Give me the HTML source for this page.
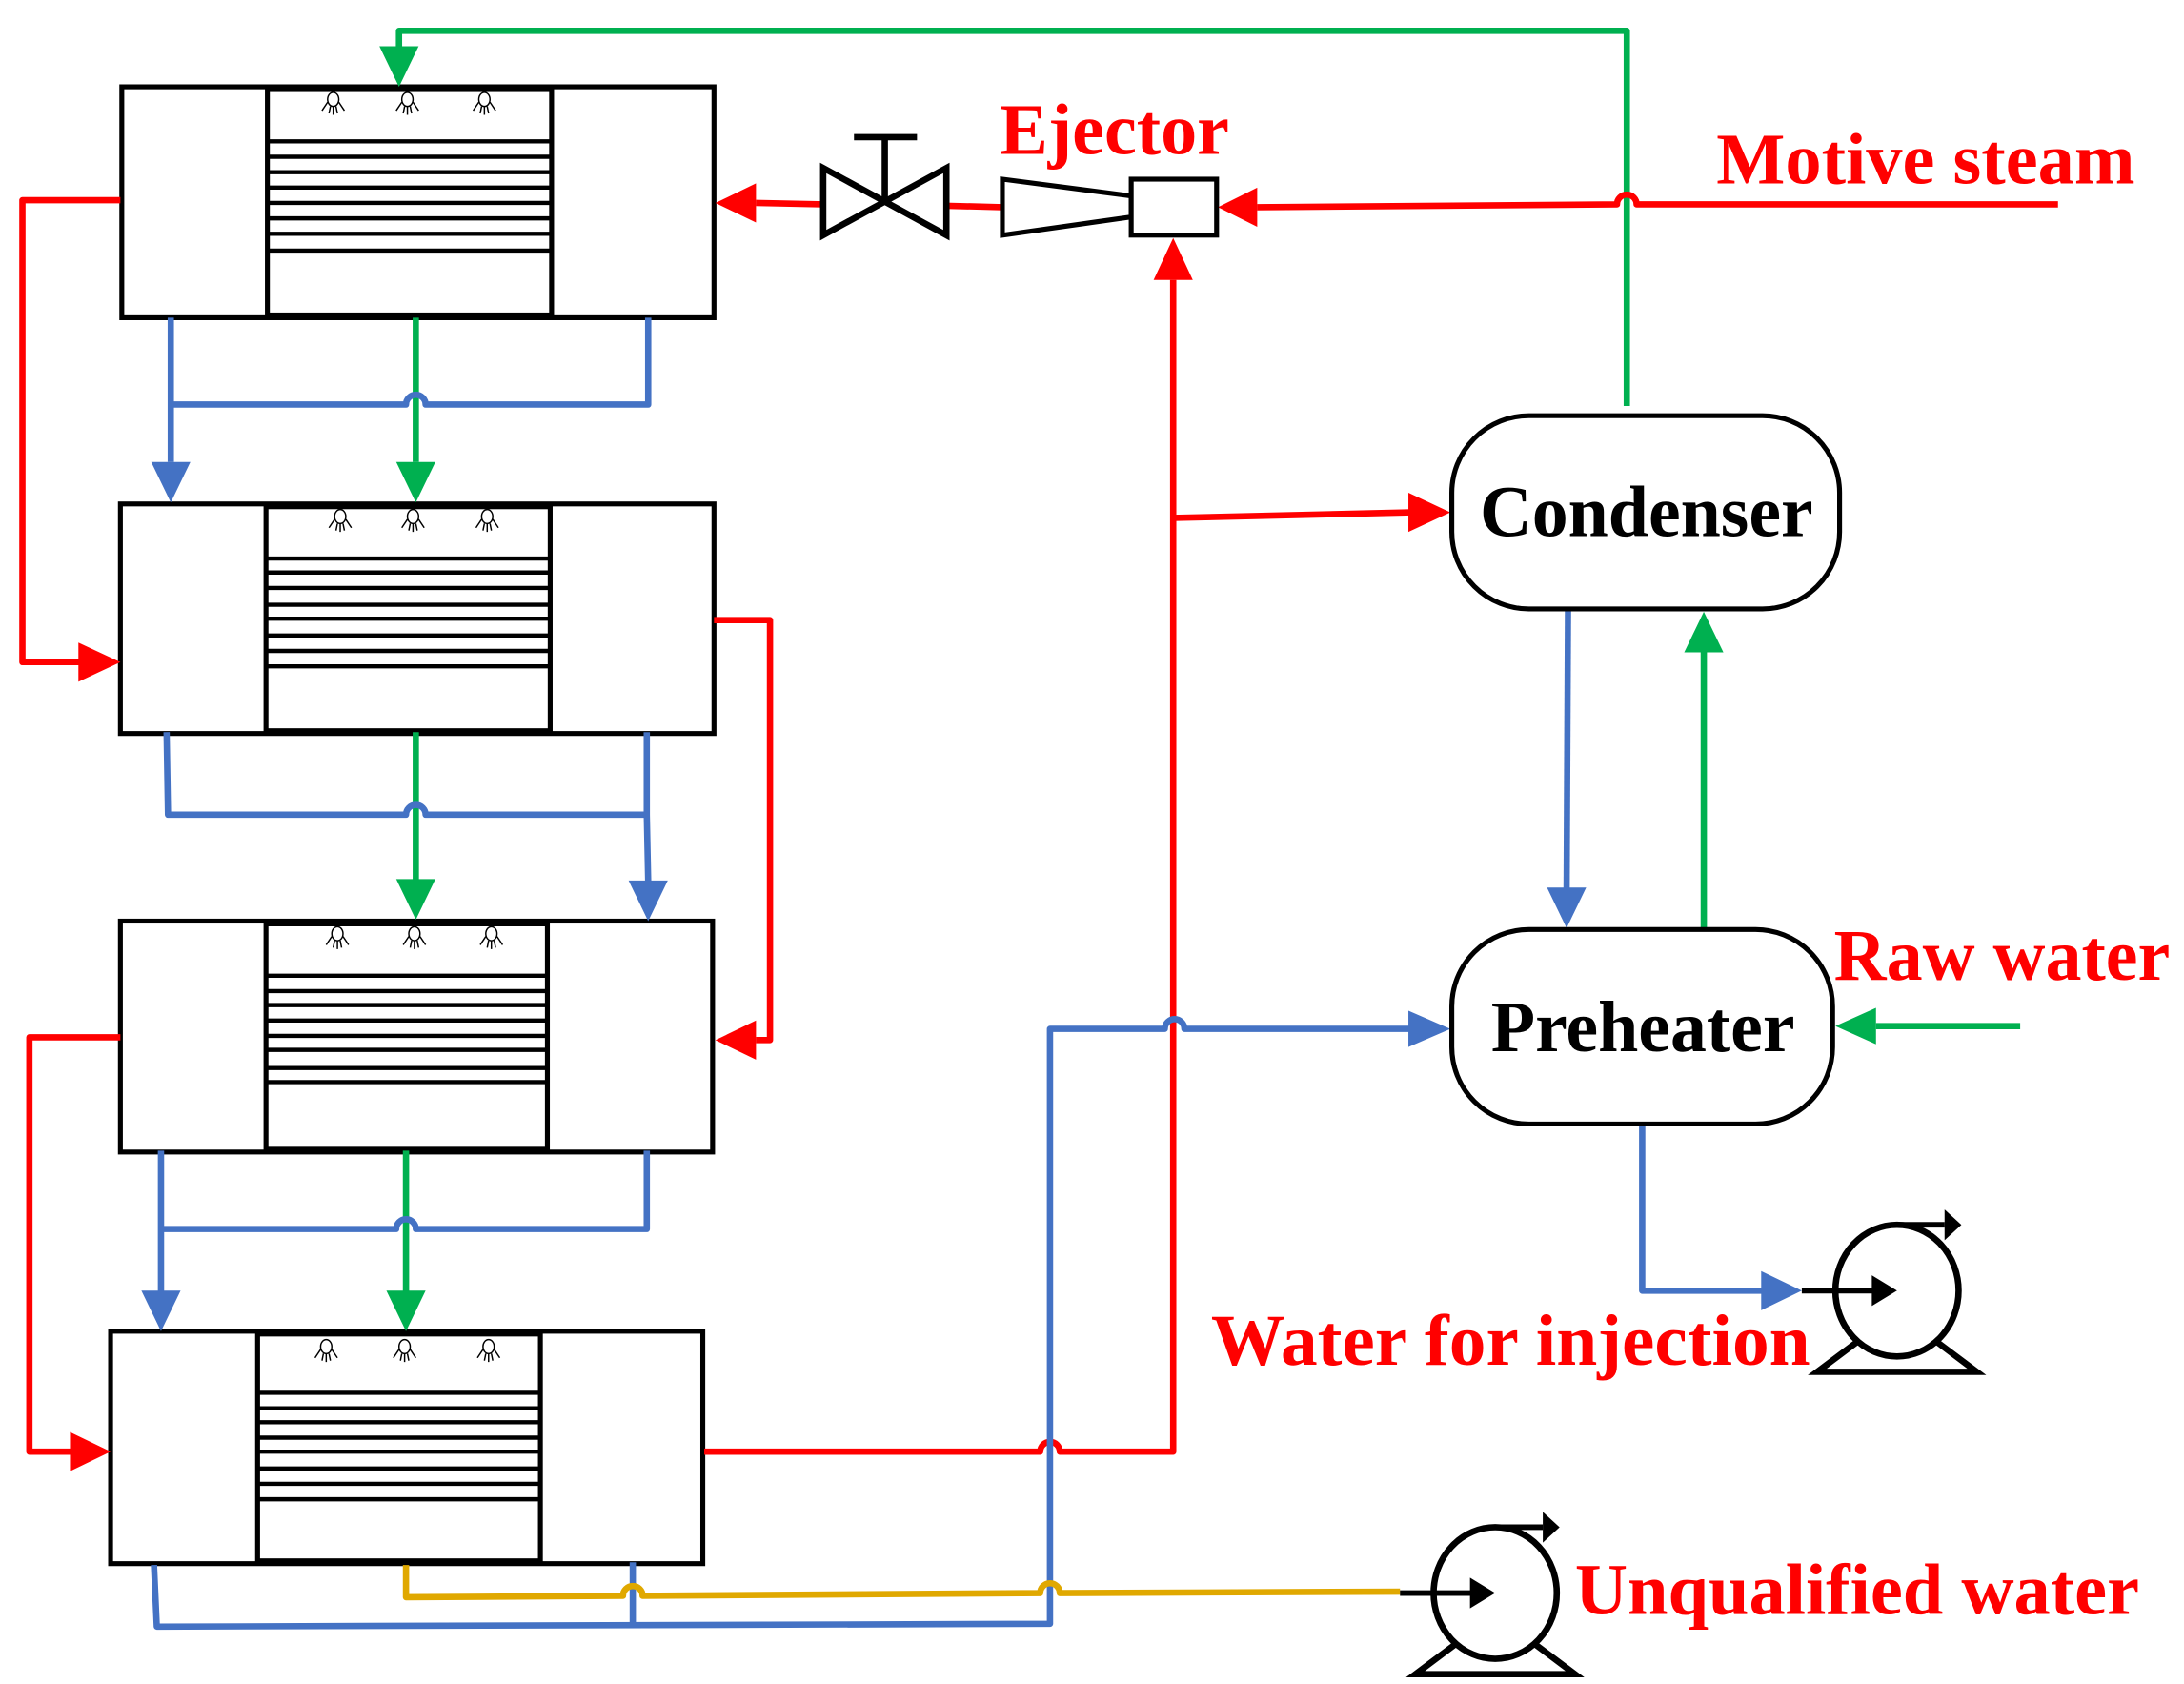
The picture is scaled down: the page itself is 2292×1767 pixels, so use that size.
<!DOCTYPE html>
<html><head><meta charset="utf-8"><style>html,body{margin:0;padding:0;background:#fff}svg{display:block}</style></head><body>
<svg width="2292" height="1767" viewBox="0 0 1560 1203" preserveAspectRatio="none" xmlns="http://www.w3.org/2000/svg">
<defs>
<g id="noz"><ellipse cx="0" cy="0" rx="4" ry="5" fill="#fff" stroke="#000" stroke-width="1"/><path d="M-4,2 L-8,8 M4,2 L8,8 M-2,5 L-3,10 M2,5 L3,10 M0,5 L0,11" stroke="#000" stroke-width="1" fill="none"/></g>
<g id="pump"><ellipse cx="0" cy="0" rx="44" ry="47" fill="#fff" stroke="#000" stroke-width="4.5"/><path d="M-29,37 L-57,58 L57,58 L29,37" fill="none" stroke="#000" stroke-width="4.5"/><path d="M0,-47 L34,-47" stroke="#000" stroke-width="4"/><polygon points="34,-58 46,-47 34,-36" fill="#000"/><path d="M-68,0 L-10,0" stroke="#000" stroke-width="4"/><polygon points="-18,-11 0,0 -18,11" fill="#000"/></g>
</defs>
<g fill="#fff" stroke="#000">
<rect x="87" y="62" width="423" height="165" stroke-width="3.5"/>
<rect x="191" y="64" width="203" height="161" stroke-width="3.5"/>
<rect x="86" y="360" width="424" height="164" stroke-width="3.5"/>
<rect x="190" y="362" width="203" height="160" stroke-width="3.5"/>
<rect x="86" y="658" width="423" height="165" stroke-width="3.5"/>
<rect x="190" y="660" width="201" height="161" stroke-width="3.5"/>
<rect x="79" y="951" width="423" height="166" stroke-width="3.5"/>
<rect x="184" y="953" width="202" height="162" stroke-width="3.5"/>
</g>
<g stroke="#000" stroke-width="3">
<path d="M191,101H394M191,112H394M191,123H394M191,134H394M191,145H394M191,156H394M191,167H394M191,179H394"/>
<path d="M190,399H393M190,409H393M190,420H393M190,432H393M190,442H393M190,454H393M190,465H393M190,476H393"/>
<path d="M190,697H391M190,708H391M190,718H391M190,729H391M190,740H391M190,750H391M190,763H391M190,773H391"/>
<path d="M184,995H386M184,1006H386M184,1016H386M184,1027H386M184,1037H386M184,1049H386M184,1060H386M184,1071H386"/>
</g>
<use href="#noz" x="238" y="71"/><use href="#noz" x="291" y="71"/><use href="#noz" x="346" y="71"/>
<use href="#noz" x="243" y="369"/><use href="#noz" x="295" y="369"/><use href="#noz" x="348" y="369"/>
<use href="#noz" x="241" y="667"/><use href="#noz" x="296" y="667"/><use href="#noz" x="351" y="667"/>
<use href="#noz" x="233" y="962"/><use href="#noz" x="289" y="962"/><use href="#noz" x="349" y="962"/>
<g fill="none" stroke-width="4.5" stroke-linejoin="round">
<path d="M1162,290V22H285V36" stroke="#00b050"/>
<path d="M297,227V330" stroke="#00b050"/>
<path d="M297,523V630" stroke="#00b050"/>
<path d="M290,822V925" stroke="#00b050"/>
<path d="M1217,663V465" stroke="#00b050"/>
<path d="M1443,733H1340" stroke="#00b050"/>
<path d="M86,143H16V473H58" stroke="#f00"/>
<path d="M510,443H550V743H540" stroke="#f00"/>
<path d="M86,741H21V1037H52" stroke="#f00"/>
<path d="M503,1037H743a7,7 0 0 1 14,0H838V200" stroke="#f00"/>
<path d="M838,370L1008,366" stroke="#f00"/>
<path d="M716,148L676,147M588,146L540,145" stroke="#f00"/>
<path d="M1470,146H1169a7,7 0 0 0 -14,0L898,148" stroke="#f00"/>
<path d="M122,227V330M122,289H290a7,7 0 0 1 14,0H463V227" stroke="#4472c4"/>
<path d="M119,523L120,582H290a7,7 0 0 1 14,0H462V523M462,582L463,630" stroke="#4472c4"/>
<path d="M115,822V925M115,878H283a7,7 0 0 1 14,0H462V822" stroke="#4472c4"/>
<path d="M110,1118L112,1162L750,1160V735H832a7,7 0 0 1 14,0H1008" stroke="#4472c4"/>
<path d="M452,1116V1160" stroke="#4472c4"/>
<path d="M1120,435L1119,635" stroke="#4472c4"/>
<path d="M1173,803V922H1260" stroke="#4472c4"/>
<path d="M290,1118V1141L445,1140a7,7 0 0 1 14,0L743,1138a7,7 0 0 1 14,0L1000,1137" stroke="#e0a800"/>
</g>
<g>
<polygon points="271,33 299,33 285,62" fill="#00b050"/>
<polygon points="283,330 311,330 297,359" fill="#00b050"/>
<polygon points="283,628 311,628 297,657" fill="#00b050"/>
<polygon points="276,922 304,922 290,951" fill="#00b050"/>
<polygon points="1203,466 1231,466 1217,437" fill="#00b050"/>
<polygon points="1340,720 1340,746 1311,733" fill="#00b050"/>
<polygon points="56,459 56,487 86,473" fill="#f00"/>
<polygon points="540,729 540,757 511,743" fill="#f00"/>
<polygon points="50,1023 50,1051 79,1037" fill="#f00"/>
<polygon points="824,200 852,200 838,170" fill="#f00"/>
<polygon points="1006,352 1006,380 1036,366" fill="#f00"/>
<polygon points="540,131 540,159 511,145" fill="#f00"/>
<polygon points="898,134 898,162 870,148" fill="#f00"/>
<polygon points="108,330 136,330 122,359" fill="#4472c4"/>
<polygon points="449,629 477,629 463,658" fill="#4472c4"/>
<polygon points="101,922 129,922 115,951" fill="#4472c4"/>
<polygon points="1006,722 1006,748 1036,735" fill="#4472c4"/>
<polygon points="1105,634 1133,634 1119,663" fill="#4472c4"/>
<polygon points="1258,908 1258,936 1287,922" fill="#4472c4"/>
</g>
<g stroke="#000" stroke-width="4.5" fill="#fff">
<polygon points="588,120 676,168 676,120 588,168"/>
<path d="M632,144V98M610,98H655" fill="none"/>
<polygon points="716,128 808,140 808,155 716,168" stroke-width="3.5"/>
<rect x="808" y="128" width="61" height="40" stroke-width="3.5"/>
</g>
<use href="#pump" x="1355" y="922"/>
<use href="#pump" x="1068" y="1138"/>
<g stroke="#000" stroke-width="3.5" fill="#fff">
<rect x="1037" y="297" width="277" height="138" rx="55"/>
<rect x="1037" y="664" width="272" height="139" rx="55"/>
</g>
<g font-family="Liberation Serif, serif" font-weight="bold" font-size="52">
<text x="1057" y="383" textLength="238" lengthAdjust="spacingAndGlyphs">Condenser</text>
<text x="1065" y="751" textLength="217" lengthAdjust="spacingAndGlyphs">Preheater</text>
<g fill="#f00">
<text x="714" y="110" textLength="164" lengthAdjust="spacingAndGlyphs">Ejector</text>
<text x="1226" y="131" textLength="299" lengthAdjust="spacingAndGlyphs">Motive steam</text>
<text x="1310" y="700" textLength="240" lengthAdjust="spacingAndGlyphs">Raw water</text>
<text x="865" y="975" textLength="428" lengthAdjust="spacingAndGlyphs">Water for injection</text>
<text x="1125" y="1153" textLength="403" lengthAdjust="spacingAndGlyphs">Unqualified water</text>
</g>
</g>
</svg>
</body></html>
